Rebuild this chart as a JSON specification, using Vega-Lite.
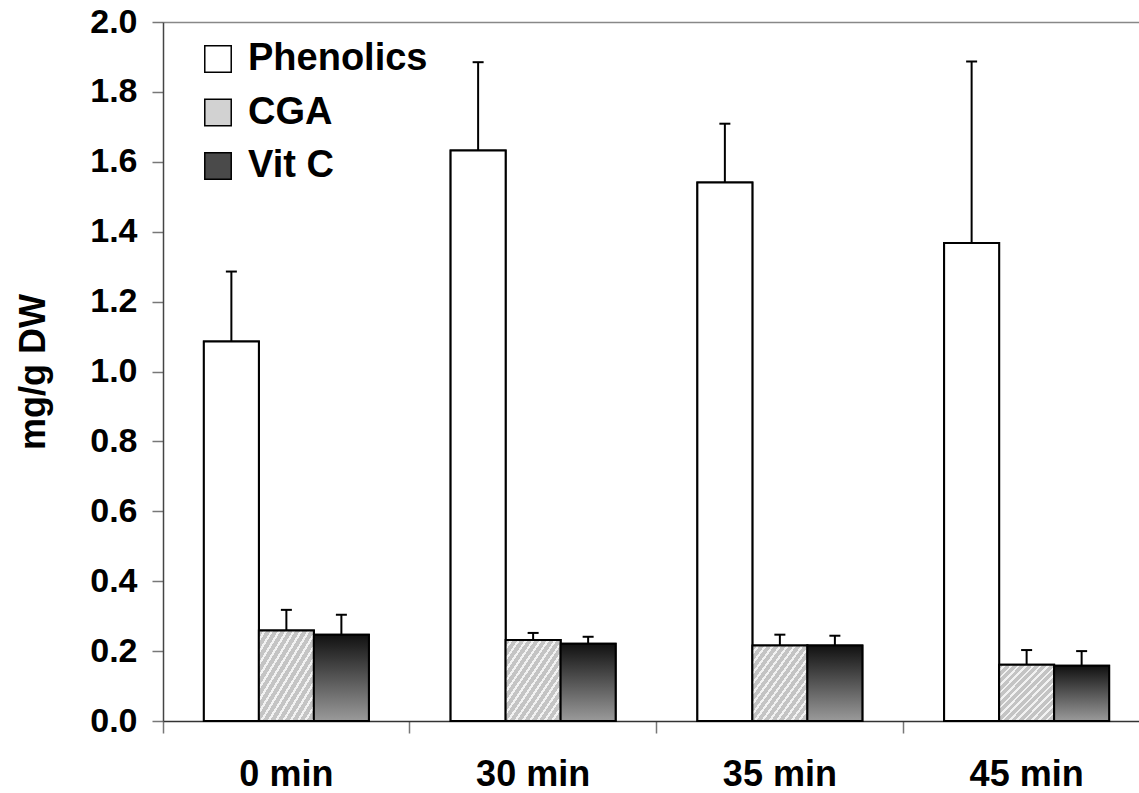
{
  "$schema": "https://vega.github.io/schema/vega-lite/v6.json",
  "autosize": "none",
  "width": 976,
  "height": 699,
  "padding": {"left": 163, "top": 22, "right": 0, "bottom": 72},
  "background": "white",
  "config": {
    "font": "Liberation Sans",
    "view": {"stroke": null}
  },
  "data": {
    "values": [
      {"time": "0 min", "series": "Phenolics", "value": 1.086, "upper": 1.286},
      {"time": "0 min", "series": "CGA", "value": 0.259, "upper": 0.318},
      {"time": "0 min", "series": "Vit C", "value": 0.247, "upper": 0.304},
      {"time": "30 min", "series": "Phenolics", "value": 1.632, "upper": 1.885},
      {"time": "30 min", "series": "CGA", "value": 0.232, "upper": 0.252},
      {"time": "30 min", "series": "Vit C", "value": 0.221, "upper": 0.241},
      {"time": "35 min", "series": "Phenolics", "value": 1.541, "upper": 1.709},
      {"time": "35 min", "series": "CGA", "value": 0.216, "upper": 0.247},
      {"time": "35 min", "series": "Vit C", "value": 0.216, "upper": 0.244},
      {"time": "45 min", "series": "Phenolics", "value": 1.368, "upper": 1.887},
      {"time": "45 min", "series": "CGA", "value": 0.161, "upper": 0.203},
      {"time": "45 min", "series": "Vit C", "value": 0.158, "upper": 0.2}
    ]
  },
  "encoding": {
    "x": {
      "field": "time",
      "type": "nominal",
      "sort": ["0 min", "30 min", "35 min", "45 min"],
      "scale": {"range": [0, 987], "paddingInner": 0, "paddingOuter": 0},
      "axis": {
        "title": null,
        "bandPosition": 0,
        "labelAngle": 0,
        "labelFontSize": 36,
        "labelFontWeight": "bold",
        "labelColor": "black",
        "labelPadding": 24,
        "tickSize": 12,
        "tickColor": "#777777",
        "tickWidth": 1.5,
        "domainColor": "#333333",
        "domainWidth": 1.5,
        "grid": false
      }
    },
    "xOffset": {
      "field": "series",
      "type": "nominal",
      "scale": {"domain": ["Phenolics", "CGA", "Vit C"], "paddingInner": 0, "paddingOuter": 0.743}
    },
    "y": {
      "field": "value",
      "type": "quantitative",
      "scale": {"domain": [0, 2], "nice": false},
      "axis": {
        "title": "mg/g DW",
        "titleFontSize": 36,
        "titleFontWeight": "bold",
        "titleColor": "black",
        "titlePadding": 37,
        "values": [0, 0.2, 0.4, 0.6, 0.8, 1.0, 1.2, 1.4, 1.6, 1.8, 2.0],
        "format": ".1f",
        "labelFontSize": 34,
        "labelFontWeight": "bold",
        "labelColor": "black",
        "labelPadding": 15,
        "tickSize": 11,
        "tickColor": "#777777",
        "tickWidth": 1.5,
        "domainColor": "#444444",
        "domainWidth": 1.5,
        "grid": true,
        "gridColor": "#888888",
        "gridWidth": 1.5,
        "gridOpacity": {"condition": {"test": "datum.value > 1.99", "value": 1}, "value": 0}
      }
    }
  },
  "layer": [
    {
      "mark": {"type": "bar", "stroke": "black", "strokeWidth": 2},
      "encoding": {
        "fill": {
          "field": "series",
          "type": "nominal",
          "scale": {"domain": ["Phenolics", "CGA", "Vit C"], "range": ["white", "#d2d2d2", "#4a4a4a"]},
          "legend": {
            "title": null,
            "orient": "none",
            "legendX": 36,
            "legendY": 18,
            "padding": 0,
            "symbolType": "square",
            "symbolSize": 700,
            "symbolStrokeColor": "black",
            "symbolStrokeWidth": 1.5,
            "labelFontSize": 38,
            "labelFontWeight": "bold",
            "labelColor": "black",
            "labelOffset": 11,
            "rowPadding": 15.5,
            "labelLimit": 400
          }
        }
      }
    },
    {
      "mark": {"type": "bar", "stroke": "black", "strokeWidth": 2},
      "encoding": {
        "fill": {
          "condition": [
            {"test": "datum.series === 'CGA'", "value": {"gradient": "linear", "x1": 0, "y1": 0, "x2": 1, "y2": 1, "stops": [
              {"offset": 0, "color": "#c4c4c4"}, {"offset": 0.0433, "color": "#c4c4c4"}, {"offset": 0.0433, "color": "#f2f2f2"}, {"offset": 0.0667, "color": "#f2f2f2"},
              {"offset": 0.0667, "color": "#c4c4c4"}, {"offset": 0.11, "color": "#c4c4c4"}, {"offset": 0.11, "color": "#f2f2f2"}, {"offset": 0.1333, "color": "#f2f2f2"},
              {"offset": 0.1333, "color": "#c4c4c4"}, {"offset": 0.1767, "color": "#c4c4c4"}, {"offset": 0.1767, "color": "#f2f2f2"}, {"offset": 0.2, "color": "#f2f2f2"},
              {"offset": 0.2, "color": "#c4c4c4"}, {"offset": 0.2433, "color": "#c4c4c4"}, {"offset": 0.2433, "color": "#f2f2f2"}, {"offset": 0.2667, "color": "#f2f2f2"},
              {"offset": 0.2667, "color": "#c4c4c4"}, {"offset": 0.31, "color": "#c4c4c4"}, {"offset": 0.31, "color": "#f2f2f2"}, {"offset": 0.3333, "color": "#f2f2f2"},
              {"offset": 0.3333, "color": "#c4c4c4"}, {"offset": 0.3767, "color": "#c4c4c4"}, {"offset": 0.3767, "color": "#f2f2f2"}, {"offset": 0.4, "color": "#f2f2f2"},
              {"offset": 0.4, "color": "#c4c4c4"}, {"offset": 0.4433, "color": "#c4c4c4"}, {"offset": 0.4433, "color": "#f2f2f2"}, {"offset": 0.4667, "color": "#f2f2f2"},
              {"offset": 0.4667, "color": "#c4c4c4"}, {"offset": 0.51, "color": "#c4c4c4"}, {"offset": 0.51, "color": "#f2f2f2"}, {"offset": 0.5333, "color": "#f2f2f2"},
              {"offset": 0.5333, "color": "#c4c4c4"}, {"offset": 0.5767, "color": "#c4c4c4"}, {"offset": 0.5767, "color": "#f2f2f2"}, {"offset": 0.6, "color": "#f2f2f2"},
              {"offset": 0.6, "color": "#c4c4c4"}, {"offset": 0.6433, "color": "#c4c4c4"}, {"offset": 0.6433, "color": "#f2f2f2"}, {"offset": 0.6667, "color": "#f2f2f2"},
              {"offset": 0.6667, "color": "#c4c4c4"}, {"offset": 0.71, "color": "#c4c4c4"}, {"offset": 0.71, "color": "#f2f2f2"}, {"offset": 0.7333, "color": "#f2f2f2"},
              {"offset": 0.7333, "color": "#c4c4c4"}, {"offset": 0.7767, "color": "#c4c4c4"}, {"offset": 0.7767, "color": "#f2f2f2"}, {"offset": 0.8, "color": "#f2f2f2"},
              {"offset": 0.8, "color": "#c4c4c4"}, {"offset": 0.8433, "color": "#c4c4c4"}, {"offset": 0.8433, "color": "#f2f2f2"}, {"offset": 0.8667, "color": "#f2f2f2"},
              {"offset": 0.8667, "color": "#c4c4c4"}, {"offset": 0.91, "color": "#c4c4c4"}, {"offset": 0.91, "color": "#f2f2f2"}, {"offset": 0.9333, "color": "#f2f2f2"},
              {"offset": 0.9333, "color": "#c4c4c4"}, {"offset": 0.9767, "color": "#c4c4c4"}, {"offset": 0.9767, "color": "#f2f2f2"}, {"offset": 1, "color": "#f2f2f2"}
            ]}},
            {"test": "datum.series === 'Vit C'", "value": {"gradient": "linear", "x1": 0, "y1": 0, "x2": 0, "y2": 1, "stops": [
              {"offset": 0, "color": "#111111"}, {"offset": 1, "color": "#9a9a9a"}
            ]}}
          ],
          "value": "white"
        }
      }
    },
    {
      "mark": {"type": "rule", "color": "black", "strokeWidth": 2},
      "encoding": {
        "y2": {"field": "upper"}
      }
    },
    {
      "mark": {"type": "tick", "orient": "horizontal", "color": "black", "size": 11, "thickness": 2, "opacity": 1},
      "encoding": {
        "y": {"field": "upper", "type": "quantitative"}
      }
    }
  ]
}
